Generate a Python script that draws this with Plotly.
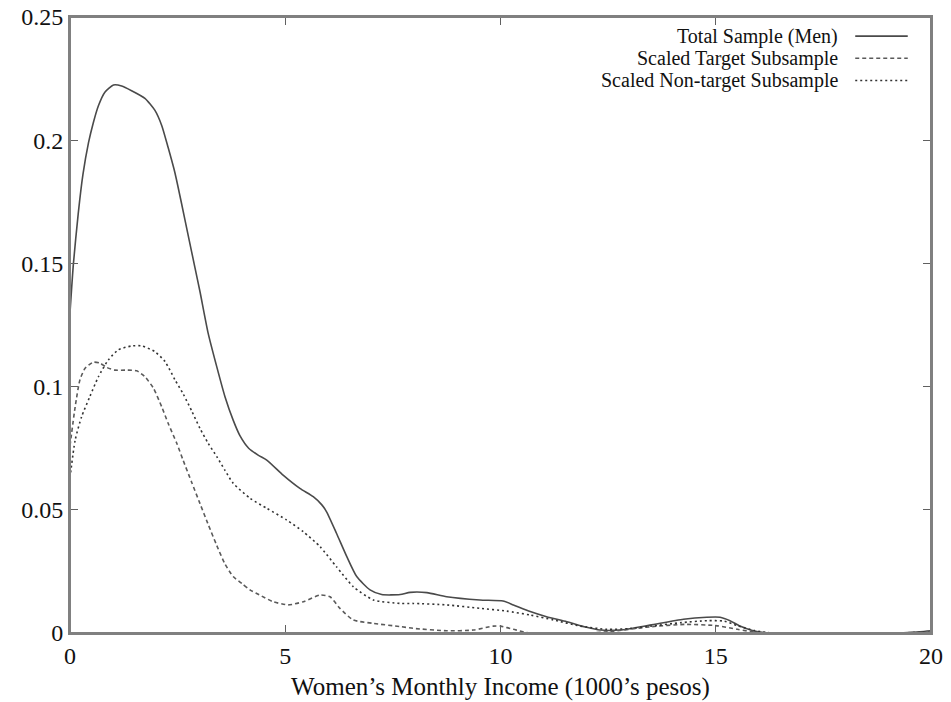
import plotly.graph_objects as go

# ---- data ----
total_x = [0, 0.08, 0.19, 0.3, 0.43, 0.54, 0.66, 0.81, 1.01, 1.2, 1.43, 1.74, 1.97, 2.13, 2.28, 2.44,
           2.59, 2.75, 2.9, 3.02, 3.21, 3.41, 3.6, 3.79, 3.95, 4.15, 4.37, 4.57, 4.95, 5.34, 5.65, 5.85,
           5.96, 6.19, 6.43, 6.66, 6.97, 7.24, 7.67, 7.9, 8.29, 8.75, 9.52, 10.06, 10.3, 10.69, 11.07,
           11.54, 12.0, 12.31, 12.78, 13.47, 14.25, 14.79, 15.1, 15.33, 15.56, 15.87, 16.18, 17, 18,
           19.28, 19.74, 20]
total_y = [0.130, 0.150, 0.170, 0.186, 0.199, 0.207, 0.214, 0.2195, 0.2224, 0.222, 0.2201, 0.217,
           0.2122, 0.206, 0.197, 0.1866, 0.1744, 0.161, 0.1485, 0.1385, 0.1216, 0.108, 0.0959, 0.0864,
           0.0800, 0.0750, 0.0722, 0.0702, 0.0641, 0.0587, 0.0553, 0.052, 0.0492, 0.0405, 0.031,
           0.0229, 0.0175, 0.0156, 0.0156, 0.0165, 0.0164, 0.0147, 0.0134, 0.013, 0.0114, 0.0087,
           0.0066, 0.0046, 0.0023, 0.0012, 0.0012, 0.0032, 0.0056, 0.0064, 0.0064, 0.005, 0.0028,
           0.0009, 0.0001, 0, 0, 0, 0.0005, 0.0009]

target_x = [0, 0.12, 0.23, 0.35, 0.54, 0.7, 0.85, 1.05, 1.32, 1.55, 1.74, 1.94, 2.13, 2.28, 2.48, 2.63,
            2.83, 3.02, 3.2, 3.41, 3.6, 3.79, 4.0, 4.18, 4.45, 4.72, 5.07, 5.42, 5.81, 6.04, 6.27, 6.58,
            7.05, 7.67, 7.97, 8.75, 9.37, 9.83, 10.0, 10.3, 10.6, 11, 12, 12.5, 13.47, 14.3, 15, 15.5,
            16, 17, 18, 19, 20]
target_y = [0.076, 0.0918, 0.1027, 0.1074, 0.1099, 0.1095, 0.1078, 0.1067, 0.1067, 0.1064, 0.104,
            0.0993, 0.0918, 0.0851, 0.077, 0.070, 0.061, 0.0525, 0.0445, 0.0355, 0.028, 0.0229, 0.020,
            0.0175, 0.0150, 0.0127, 0.0114, 0.0127, 0.0154, 0.0147, 0.010, 0.0053, 0.0039, 0.0026,
            0.0019, 0.0009, 0.0012, 0.0028, 0.0028, 0.0015, 0.0002, 0, 0, 0.0005, 0.0025, 0.0035,
            0.003, 0.0015, 0.0002, 0, 0, 0, 0.0003]

nontarget_x = [0, 0.12, 0.27, 0.46, 0.66, 0.89, 1.12, 1.43, 1.67, 1.97, 2.21, 2.44, 2.63, 2.83, 3.02,
               3.21, 3.41, 3.6, 3.79, 4.18, 4.57, 5.03, 5.42, 5.81, 6.19, 6.58, 7.05, 7.67, 7.97, 8.75,
               9.52, 10.14, 10.69, 11.23, 11.85, 12.47, 13.0, 13.5, 14.2, 14.8, 15.2, 15.5, 15.9, 16.3,
               17, 18, 19, 20]
nontarget_y = [0.063, 0.0783, 0.0878, 0.0959, 0.104, 0.1108, 0.1149, 0.1165, 0.1165, 0.1142, 0.1101,
               0.1027, 0.097, 0.090, 0.083, 0.077, 0.0716, 0.066, 0.0608, 0.0547, 0.0506, 0.0459,
               0.0411, 0.035, 0.0269, 0.0188, 0.0134, 0.012, 0.012, 0.0114, 0.010, 0.0089, 0.0073,
               0.0053, 0.0028, 0.0015, 0.0018, 0.0028, 0.0042, 0.005, 0.0048, 0.003, 0.001, 0, 0, 0,
               0, 0.0003]

series_names = ["Total Sample (Men)", "Scaled Target Subsample", "Scaled Non-target Subsample"]
x_ticks = [0, 5, 10, 15, 20]
y_ticks = [0, 0.05, 0.1, 0.15, 0.2, 0.25]
y_tick_labels = ["0", "0.05", "0.1", "0.15", "0.2", "0.25"]
x_title = "Women\u2019s Monthly Income (1000\u2019s pesos)"

# ---- styles ----
styles = [
    dict(color="#4a4a4a", width=1.6, dash="solid"),
    dict(color="#5a5a5a", width=1.6, dash="4px,3px"),
    dict(color="#333333", width=1.6, dash="2px,3px"),
]
FONT = "Liberation Serif"

fig = go.Figure()
for (xs, ys), name, st in zip([(total_x, total_y), (target_x, target_y), (nontarget_x, nontarget_y)],
                               series_names, styles):
    fig.add_trace(go.Scatter(x=xs, y=ys, mode="lines", name=name, showlegend=False,
                             line=dict(color=st["color"], width=st["width"], dash=st["dash"],
                                       shape="spline", smoothing=0.6)))

# custom legend: right-aligned text with sample line to its right
leg_y = [0.969, 0.933, 0.897]
for name, st, yy in zip(series_names, styles, leg_y):
    fig.add_annotation(x=0.894, y=yy, xref="paper", yref="paper", text=name, showarrow=False,
                       xanchor="right", yanchor="middle",
                       font=dict(family=FONT, size=20, color="#111"))
    fig.add_shape(type="line", xref="paper", yref="paper", x0=0.912, x1=0.973, y0=yy, y1=yy,
                  line=dict(color=st["color"], width=st["width"], dash=st["dash"]))

# plot frame (drawn above the plot background so the top edge is always visible)
fig.add_shape(type="rect", xref="paper", yref="paper", x0=0, x1=1, y0=0, y1=1,
              line=dict(color="#808080", width=2), layer="above")

axis_common = dict(showgrid=False, zeroline=False, showline=True, linecolor="#808080", linewidth=2,
                   mirror="ticks", ticks="inside", ticklen=8, tickcolor="#606060", tickwidth=1,
                   automargin=False, ticklabeloverflow="allow",
                   tickfont=dict(family=FONT, size=24, color="#111"))

fig.update_xaxes(range=[0, 20], tickvals=x_ticks, ticktext=[str(v) for v in x_ticks],
                 title=dict(text=x_title, font=dict(family=FONT, size=25, color="#111"),
                            standoff=10),
                 **axis_common)
fig.update_yaxes(range=[0, 0.25], tickvals=y_ticks, ticktext=y_tick_labels, **axis_common)

fig.update_layout(width=951, height=702, margin=dict(l=70, r=20, t=17, b=69),
                  paper_bgcolor="white", plot_bgcolor="white", showlegend=False)

# remove the default page margin so the figure fills the window exactly
fig.write_html("out.html", config={"displayModeBar": False},
               post_script="document.body.style.margin='0';")
